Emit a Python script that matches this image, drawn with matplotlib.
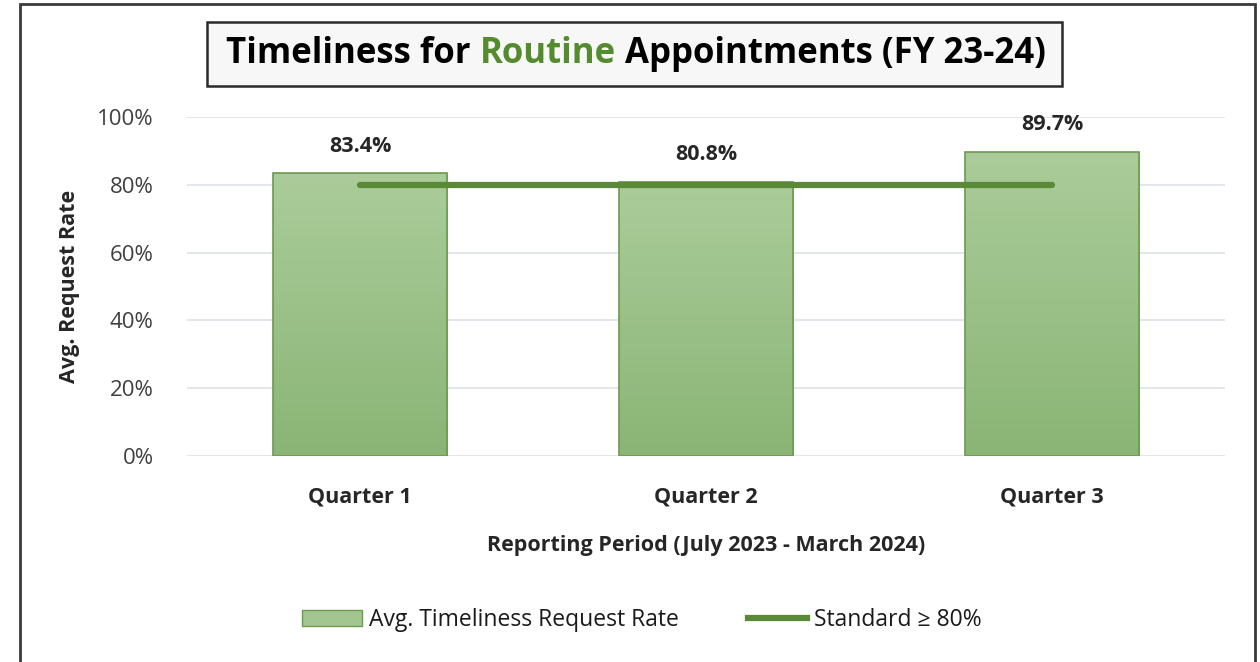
import numpy as np
import matplotlib.pyplot as plt
from matplotlib.patches import Rectangle, Patch
from matplotlib.lines import Line2D
from matplotlib.ticker import PercentFormatter

# Data
quarters = ["Quarter 1", "Quarter 2", "Quarter 3"]
rates = [83.4, 80.8, 89.7]
standard = [80, 80, 80]
yticks = [0, 20, 40, 60, 80, 100]

plt.rcParams["font.family"] = ["Open Sans", "DejaVu Sans"]

fig = plt.figure(figsize=(12.6, 6.62), dpi=100)
ax = fig.add_axes([187 / 1260, 1 - 456 / 662, (1225 - 187) / 1260, (456 - 117) / 662])

x = np.arange(len(quarters))
bars = ax.bar(x, rates, width=0.505, color="none", edgecolor="#6b9a4e", linewidth=1.2, zorder=3)

# vertical gradient inside each bar
grad = np.linspace(0, 1, 256).reshape(-1, 1)
top = np.array([0xab, 0xcc, 0x9a]) / 255
bot = np.array([0x8a, 0xb5, 0x76]) / 255
img = top + (bot - top) * grad[:, :, None]
for b in bars:
    im = ax.imshow(img, extent=[b.get_x(), b.get_x() + b.get_width(), 0, b.get_height()],
                   aspect="auto", zorder=2, origin="upper")
    im.set_clip_path(b)

ax.plot(x, standard, color="#5a8a38", linewidth=4.5, solid_capstyle="round", zorder=4)

for xi, v in zip(x, rates):
    ax.annotate(f"{v:.1f}%", (xi, v), xytext=(0, 12), textcoords="offset points",
                ha="center", va="bottom", fontsize=15.5, fontweight="bold", color="#262626")

ax.set_xlim(-0.5, 2.5)
ax.set_ylim(0, 100)
ax.set_yticks(yticks)
ax.yaxis.set_major_formatter(PercentFormatter(decimals=0))
ax.set_xticks(x)
ax.set_xticklabels(quarters, fontsize=15.5, fontweight="bold", color="#262626")
ax.tick_params(axis="y", labelsize=16, labelcolor="#404040", length=0, pad=24)
ax.tick_params(axis="x", length=0, pad=22)
ax.grid(axis="y", color="#dde3ea", linewidth=1.2, zorder=0)
ax.set_axisbelow(True)
for s in ax.spines.values():
    s.set_visible(False)

ax.set_xlabel("Reporting Period (July 2023 - March 2024)", fontsize=15.5, fontweight="bold",
              color="#262626", labelpad=20)
ax.set_ylabel("Avg. Request Rate", fontsize=15.5, fontweight="bold", color="#262626", labelpad=12)

# outer frame
fig.patches.append(Rectangle((20 / 1260, -0.05), 1235 / 1260, 1.05 - 4 / 662, transform=fig.transFigure,
                             fill=False, edgecolor="#3a3a3a", linewidth=2))

# title box with a green word
parts = [("Timeliness for ", "black"), ("Routine", "#558b2f"), (" Appointments (FY 23-24)", "black")]
fig.patches.append(Rectangle((207 / 1260, 1 - 86 / 662), (1062 - 207) / 1260, 64 / 662,
                             transform=fig.transFigure, facecolor="#f7f7f7",
                             edgecolor="#2a2a2a", linewidth=1.8))
renderer = fig.canvas.get_renderer()
texts = []
for s, c in parts:
    t = fig.text(0, 1 - 54 / 662, s, fontsize=25, fontweight="bold", color=c, va="center", ha="left")
    texts.append(t)
widths = [t.get_window_extent(renderer).width for t in texts]
xpos = 636 - sum(widths) / 2
for t, w in zip(texts, widths):
    t.set_x(xpos / 1260)
    xpos += w

# legend
handles = [Patch(facecolor="#a3c691", edgecolor="#6b9a4e", label="Avg. Timeliness Request Rate"),
           Line2D([0], [0], color="#5a8a38", linewidth=4.5, label="Standard \u2265 80%")]
fig.legend(handles=handles, loc="center", bbox_to_anchor=(642 / 1260, 1 - 620 / 662), ncol=2,
           frameon=False, fontsize=16.5, columnspacing=3.0, handlelength=2.6, handletextpad=0.3,
           labelcolor="#1a1a1a")

fig.savefig("out.png", dpi=100)
